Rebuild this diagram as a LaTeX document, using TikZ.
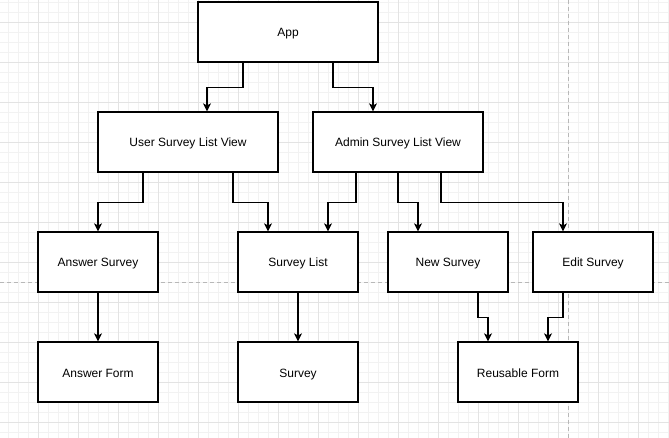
\documentclass[tikz,border=0pt]{standalone}
\usepackage{fontspec}
\setmainfont{Liberation Sans}
\usetikzlibrary{arrows.meta,calc}
\begin{document}
\begin{tikzpicture}[x=1pt,y=-1pt,
  box/.style={draw=black,line width=1.2pt,fill=white,minimum width=120pt,minimum height=60pt,inner sep=0pt,text height=10pt,text depth=0pt,font=\fontsize{12pt}{14pt}\selectfont},
  arr/.style={draw=black,line width=1.2pt,-{Stealth[length=8pt,width=8pt,inset=2pt]}},
  minorgrid/.style={draw=black!5,line width=0.8pt},
  majorgrid/.style={draw=black!11,line width=0.8pt},
  pagebreak/.style={draw=black!28,line width=0.8pt,dash pattern=on 4pt off 3pt}]
\useasboundingbox (0,0) rectangle (669,438);
\fill[white] (0,0) rectangle (669,438);
\foreach \x in {8,18,...,668} \draw[minorgrid] (\x,0) -- (\x,438);
\foreach \y in {2,12,...,432} \draw[minorgrid] (0,\y) -- (669,\y);
\foreach \x in {38,78,...,638} \draw[majorgrid] (\x,0) -- (\x,438);
\foreach \y in {22,62,...,422} \draw[majorgrid] (0,\y) -- (669,\y);
\draw[pagebreak] (0,282) -- (669,282);
\draw[pagebreak] (568,0) -- (568,438);

\node[box,minimum width=180pt] (app) at (288,32) {App};
\node[box,minimum width=180pt] (user) at (188,142) {User Survey List View};
\node[box,minimum width=170pt] (admin) at (398,142) {Admin Survey List View};
\node[box] (ans) at (98,262) {Answer Survey};
\node[box] (slist) at (298,262) {Survey List};
\node[box] (new) at (448,262) {New Survey};
\node[box] (edit) at (593,262) {Edit Survey};
\node[box] (aform) at (98,372) {Answer Form};
\node[box] (survey) at (298,372) {Survey};
\node[box] (reuse) at (518,372) {Reusable Form};

\draw[arr] ([xshift=-45pt]app.south) -- ++(0,25) -| ([xshift=19pt]user.north);
\draw[arr] ([xshift=45pt]app.south) -- ++(0,25) -| ([xshift=-25pt]admin.north);
\draw[arr] ([xshift=-45pt]user.south) -- ++(0,30) -| (ans.north);
\draw[arr] ([xshift=45pt]user.south) -- ++(0,30) -| ([xshift=-30pt]slist.north);
\draw[arr] ([xshift=-42pt]admin.south) -- ++(0,30) -| ([xshift=30pt]slist.north);
\draw[arr] (admin.south) -- ++(0,30) -| ([xshift=-30pt]new.north);
\draw[arr] ([xshift=43pt]admin.south) -- ++(0,30) -| ([xshift=-30pt]edit.north);
\draw[arr] (ans.south) -- (aform.north);
\draw[arr] (slist.south) -- (survey.north);
\draw[arr] ([xshift=30pt]new.south) -- ++(0,25) -| ([xshift=-30pt]reuse.north);
\draw[arr] ([xshift=-30pt]edit.south) -- ++(0,25) -| ([xshift=30pt]reuse.north);
\end{tikzpicture}
\end{document}
